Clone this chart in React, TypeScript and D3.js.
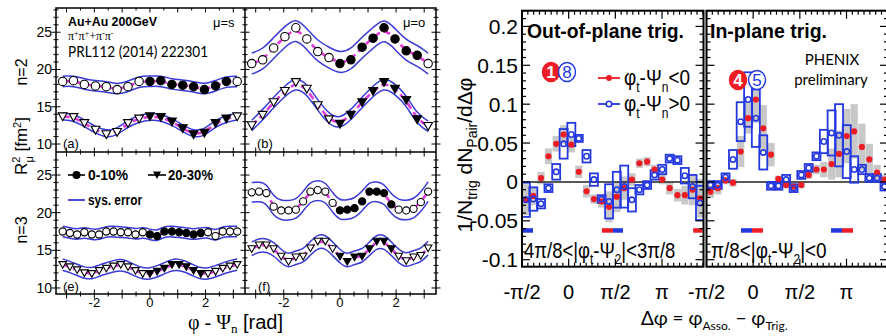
import React from 'react';
import * as d3 from 'd3';

const PI = Math.PI;

// ---------- Left figure data (R^2_mu vs phi - Psi_n) ----------
const phiN2 = [-3.14, -2.75, -2.36, -1.96, -1.57, -1.18, -0.79, -0.39, 0, 0.39, 0.79, 1.18, 1.57, 1.96, 2.36, 2.75, 3.14];
const phiN3 = [-3.14, -2.88, -2.62, -2.36, -2.09, -1.83, -1.57, -1.31, -1.05, -0.79, -0.52, -0.26, 0, 0.26, 0.52, 0.79, 1.05, 1.31, 1.57, 1.83, 2.09, 2.36, 2.62, 2.88, 3.14];

const aCentral = [18.4, 18.5, 18.0, 17.8, 17.7, 17.3, 17.7, 18.4, 18.4, 18.5, 18.0, 17.9, 17.7, 17.3, 17.8, 18.4, 18.4];
const aMid = [13.7, 13.6, 12.8, 11.9, 11.3, 11.6, 12.8, 13.4, 13.7, 13.6, 13.0, 12.1, 11.3, 11.5, 12.8, 13.4, 13.7];
const bCentral = [20.8, 21.3, 22.9, 24.4, 25.6, 24.1, 22.4, 21.6, 20.8, 21.3, 23.0, 24.2, 25.6, 24.1, 22.5, 21.9, 20.8];
const bMid = [12.5, 13.9, 15.6, 17.1, 18.3, 17.4, 15.2, 13.3, 12.7, 13.9, 15.6, 17.1, 18.3, 17.4, 15.9, 13.3, 12.4];
const eCentral = [17.5, 17.3, 17.1, 17.4, 17.1, 17.1, 17.5, 17.5, 17.4, 17.4, 17.1, 17.4, 17.1, 16.9, 17.5, 17.5, 17.4, 17.3, 17.1, 17.3, 17.4, 16.9, 17.5, 17.5, 17.5];
const eMid = [13.1, 12.8, 12.4, 12.0, 11.9, 12.3, 12.6, 12.9, 13.1, 12.8, 12.3, 11.9, 11.9, 12.2, 12.6, 13.1, 13.1, 12.8, 12.3, 11.9, 11.9, 12.2, 12.6, 12.9, 13.1];
const fCentral = [22.7, 22.8, 22.6, 20.8, 20.3, 20.3, 20.4, 21.5, 22.8, 23.0, 22.8, 21.3, 20.3, 20.4, 20.6, 21.5, 22.8, 22.8, 22.6, 21.1, 20.4, 20.3, 20.5, 21.4, 22.8];
const fMid = [15.2, 15.7, 15.7, 15.2, 14.2, 13.5, 14.1, 14.2, 15.3, 16.2, 16.2, 15.2, 14.2, 13.5, 14.1, 14.2, 15.2, 16.2, 16.2, 15.2, 14.2, 13.6, 14.1, 14.3, 15.3];
const sysErr = { a: [0.7, 0.45], b: [1.4, 0.7], e: [0.7, 0.75], f: [1.3, 0.9] };
const filledN2 = [8, 15];
const filledN3 = [12, 19];
const yTicksLeft = [10, 15, 20, 25];
const xTicksLeft = [-2, 0, 2];

// ---------- Right figure data (dN/dDphi) ----------
const dphiBins = [-1.44, -1.19, -0.93, -0.68, -0.42, -0.17, 0.09, 0.34, 0.60, 0.85, 1.11, 1.36, 1.62, 1.87, 2.13, 2.38, 2.64, 2.89, 3.15, 3.40, 3.66, 3.91, 4.17, 4.42];
const outRed = [-0.023, -0.018, 0.005, 0.033, 0.049, 0.061, 0.048, 0.013, -0.012, -0.022, -0.025, -0.032, -0.019, -0.008, 0.003, 0.024, 0.026, 0.016, 0.003, -0.008, -0.017, -0.017, -0.010, -0.021];
const outRedErr = [0.02, 0.012, 0.008, 0.01, 0.01, 0.012, 0.01, 0.008, 0.008, 0.006, 0.008, 0.02, 0.02, 0.015, 0.008, 0.006, 0.006, 0.006, 0.006, 0.008, 0.008, 0.012, 0.02, 0.025];
const outBlue = [-0.023, -0.022, -0.028, -0.008, 0.013, 0.049, 0.061, 0.056, 0.033, 0.003, -0.022, -0.025, -0.010, -0.006, -0.023, -0.010, -0.004, 0.009, 0.016, 0.030, 0.028, 0.008, -0.006, -0.027];
const outBlueErr = [0.022, 0.015, 0.006, 0.005, 0.01, 0.019, 0.015, 0.004, 0.008, 0.008, 0.005, 0.022, 0.023, 0.027, 0.015, 0.006, 0.005, 0.006, 0.006, 0.005, 0.005, 0.01, 0.015, 0.022];
const inRed = [-0.0125, -0.008, 0.002, -0.001, 0.039, 0.082, 0.106, 0.069, 0.035, 0.004, -0.004, -0.006, -0.004, 0.009, 0.016, 0.016, 0.023, 0.036, 0.059, 0.065, 0.045, 0.029, 0.012, 0.003];
const inRedErr = [0.008, 0.008, 0.005, 0.005, 0.02, 0.02, 0.03, 0.03, 0.015, 0.004, 0.004, 0.004, 0.004, 0.005, 0.006, 0.01, 0.02, 0.03, 0.035, 0.035, 0.03, 0.02, 0.01, 0.006];
const inBlue = [-0.004, -0.004, 0.006, 0.029, 0.0775, 0.106, 0.082, 0.038, -0.005, -0.005, 0.003, -0.008, 0.009, 0.018, 0.033, 0.052, 0.063, 0.060, 0.039, 0.016, 0.016, 0.005, 0.005, -0.006];
const inBlueErr = [0.005, 0.005, 0.005, 0.012, 0.025, 0.035, 0.037, 0.022, 0.005, 0.005, 0.006, 0.005, 0.005, 0.005, 0.005, 0.015, 0.029, 0.04, 0.034, 0.017, 0.006, 0.005, 0.005, 0.005];
const zyamOut = [[-1.571, -1.2, 'b'], [1.12, 1.49, 'r'], [1.49, 1.83, 'b'], [4.19, 4.5, 'r']] as [number, number, string][];
const zyamIn = [[-0.41, -0.04, 'b'], [-0.04, 0.33, 'r'], [2.62, 2.99, 'b'], [2.99, 3.36, 'r']] as [number, number, string][];
const yTicksRight = [-0.1, -0.05, 0, 0.05, 0.1, 0.15, 0.2];
const yTickLabelsRight = ['-0.1', '-0.05', '0', '0.05', '0.1', '0.15', '0.2'];
const xTicksRight = [-PI / 2, 0, PI / 2, PI];
const xTickLabelsRight = ['-π/2', '0', 'π/2', 'π'];

const MAG = '#e03ad8';
const BAND = '#3a3ad8';
const RED = '#ee1c24';
const BLUE = '#2438e0';
const GRAY = '#c8c8c8';
const SANS = "'Liberation Sans', Arial, sans-serif";
const SERIF = "'Liberation Serif', 'DejaVu Serif', serif";
const CAL = "Lato, 'Open Sans', sans-serif";

// ---------- geometry ----------
const LX0 = 56, LXM = 245, LX1 = 436;
const LY0 = 8, LYM = 152, LY1 = 294;
const xsA = d3.scaleLinear().domain([-3.38, 3.42]).range([LX0, LXM]);
const xsB = d3.scaleLinear().domain([-3.38, 3.42]).range([LXM, LX1]);
const ysTop = d3.scaleLinear().domain([8.93, 28.25]).range([LYM, LY0]);
const ysBot = d3.scaleLinear().domain([9.2, 28.06]).range([LY1, LYM]);

const RO0 = 522, RO1 = 703.5, RI0 = 706.5, RI1 = 888;
const RY0 = 10.7, RY1 = 266.7;
const xsOut = d3.scaleLinear().domain([-PI / 2, 4.538]).range([RO0, RO1]);
const xsIn = d3.scaleLinear().domain([-PI / 2, 4.538]).range([RI0, RI1]);
const ysR = d3.scaleLinear().domain([-0.109, 0.2202]).range([RY1, RY0]);

type LPProps = { xs: any; ys: any; phi: number[]; central: number[]; mid: number[]; errs: number[]; filled: number[]; r: number };

function LeftPanel({ xs, ys, phi, central, mid, errs, filled, r }: LPProps) {
  const band = d3.line<number[]>().x(d => xs(d[0])).y(d => ys(d[1])).curve(d3.curveBasis);
  const fit = d3.line<number[]>().x(d => xs(d[0])).y(d => ys(d[1])).curve(d3.curveBasis);
  const series = [{ v: central, e: errs[0], shape: 'c' }, { v: mid, e: errs[1], shape: 't' }];
  return (
    <g>
      {series.map((s, k) => (
        <g key={k}>
          <path d={band(phi.map((p, i) => [p, s.v[i] + s.e])) || ''} fill="none" stroke={BAND} strokeWidth={1.5} />
          <path d={band(phi.map((p, i) => [p, s.v[i] - s.e])) || ''} fill="none" stroke={BAND} strokeWidth={1.5} />
          <path d={fit(phi.map((p, i) => [p, s.v[i]])) || ''} fill="none" stroke={MAG} strokeWidth={2.6} strokeDasharray="7 4" />
          {phi.map((p, i) => {
            const f = i >= filled[0] && i <= filled[1];
            const cx = xs(p), cy = ys(s.v[i]);
            return s.shape === 'c' ? (
              <circle key={i} cx={cx} cy={cy} r={r} fill={f ? '#000' : '#fff'} stroke="#000" strokeWidth={1.1} />
            ) : (
              <path key={i} d={`M${cx - r * 1.05},${cy - r * 0.85}L${cx + r * 1.05},${cy - r * 0.85}L${cx},${cy + r * 1.0}Z`} fill={f ? '#000' : '#fff'} stroke="#000" strokeWidth={1.1} />
            );
          })}
        </g>
      ))}
    </g>
  );
}

function leftTicks() {
  const els: any[] = [];
  const yVals = d3.range(9, 29);
  [[ysTop, LY0, LYM], [ysBot, LYM, LY1]].forEach(([ys, ya, yb]: any, pi) => {
    yVals.forEach(v => {
      const y = ys(v);
      if (y < ya + 1 || y > yb - 1) return;
      const L = v % 5 === 0 ? 4.5 : 2.5;
      [LX0, LXM, LX1].forEach((x, xi) => {
        els.push(<line key={`y${pi}-${v}-${xi}`} x1={x - L} x2={x + L} y1={y} y2={y} stroke="#000" strokeWidth={1} />);
      });
    });
  });
  const xVals = d3.range(-3, 3.01, 0.5);
  [xsA, xsB].forEach((xs, xi) => {
    xVals.forEach(v => {
      const x = xs(v);
      const L = Math.abs(v % 1) < 1e-6 ? 4.5 : 2.5;
      els.push(<line key={`xt${xi}-${v}`} x1={x} x2={x} y1={LY0} y2={LY0 + L} stroke="#000" strokeWidth={1} />);
      els.push(<line key={`xm${xi}-${v}`} x1={x} x2={x} y1={LYM - L} y2={LYM + L} stroke="#000" strokeWidth={1} />);
      els.push(<line key={`xb${xi}-${v}`} x1={x} x2={x} y1={LY1 - L} y2={LY1 + L} stroke="#000" strokeWidth={1} />);
    });
  });
  return els;
}

type RPProps = { xs: any; x0: number; x1: number; red: number[]; redErr: number[]; blue: number[]; blueErr: number[]; zyam: [number, number, string][] };

function RightPanel({ xs, x0, x1, red, redErr, blue, blueErr, zyam }: RPProps) {
  const ticks: any[] = [];
  const minorY = d3.range(-0.1, 0.221, 0.01);
  minorY.forEach((v, i) => {
    const y = ysR(v);
    const major = Math.abs(Math.round(v * 100) % 5) === 0;
    const L = major ? 8 : 4;
    ticks.push(<line key={`l${i}`} x1={x0} x2={x0 + L} y1={y} y2={y} stroke="#000" strokeWidth={1.2} />);
    ticks.push(<line key={`r${i}`} x1={x1 - L} x2={x1} y1={y} y2={y} stroke="#000" strokeWidth={1.2} />);
  });
  const minorX = d3.range(-PI / 2, 4.54, PI / 16);
  minorX.forEach((v, i) => {
    const x = xs(v);
    const major = i % 8 === 0;
    const L = major ? 8 : 4;
    ticks.push(<line key={`t${i}`} x1={x} x2={x} y1={RY0} y2={RY0 + L} stroke="#000" strokeWidth={1.2} />);
    ticks.push(<line key={`b${i}`} x1={x} x2={x} y1={RY1 - L} y2={RY1} stroke="#000" strokeWidth={1.2} />);
  });
  return (
    <g>
      <defs>
        <clipPath id={`clip${x0}`}>
          <rect x={x0} y={RY0} width={x1 - x0} height={RY1 - RY0} />
        </clipPath>
      </defs>
      <g clipPath={`url(#clip${x0})`}>
        {dphiBins.map((b, i) => {
          const cx = xs(b);
          const h = Math.max(ysR(red[i] - redErr[i]) - ysR(red[i] + redErr[i]), 6);
          return <rect key={`g${i}`} x={cx - 3.6} y={ysR(red[i]) - h / 2} width={7.2} height={h} fill={GRAY} />;
        })}
        <line x1={x0} x2={x1} y1={ysR(0)} y2={ysR(0)} stroke="#222" strokeWidth={1.6} />
        {dphiBins.map((b, i) => {
          const cx = xs(b);
          const h = Math.max(ysR(blue[i] - blueErr[i]) - ysR(blue[i] + blueErr[i]), 7);
          return <rect key={`bb${i}`} x={cx - 4} y={ysR(blue[i]) - h / 2} width={8} height={h} fill="none" stroke={BLUE} strokeWidth={1.8} />;
        })}
        {dphiBins.map((b, i) => (
          <circle key={`rd${i}`} cx={xs(b)} cy={ysR(red[i])} r={3.1} fill={RED} />
        ))}
        {dphiBins.map((b, i) => (
          <circle key={`bc${i}`} cx={xs(b)} cy={ysR(blue[i])} r={2.7} fill="none" stroke={BLUE} strokeWidth={1.6} />
        ))}
        {zyam.map(([a, b, c], i) => (
          <rect key={`z${i}`} x={xs(a)} y={ysR(-0.0595)} width={xs(b) - xs(a)} height={4.5} fill={c === 'r' ? RED : BLUE} />
        ))}
      </g>
      {ticks}
      <rect x={x0} y={RY0} width={x1 - x0} height={RY1 - RY0} fill="none" stroke="#000" strokeWidth={2} />
      {xTicksRight.map((v, i) => (
        <text key={`xl${i}`} x={xs(v)} y={299} textAnchor="middle" fontFamily={SANS} fontSize={20}>{xTickLabelsRight[i]}</text>
      ))}
    </g>
  );
}

function Badge({ cx, cy, label, filled }: { cx: number; cy: number; label: string; filled: boolean }) {
  return (
    <g>
      <ellipse cx={cx} cy={cy} rx={8.5} ry={9.5} fill={filled ? RED : '#fff'} stroke={filled ? RED : BLUE} strokeWidth={1.4} />
      <text x={cx} y={cy + 6} textAnchor="middle" fontFamily={SANS} fontSize={17} fontWeight={filled ? 'bold' : 'normal'} fill={filled ? '#fff' : BLUE}>{label}</text>
    </g>
  );
}

function LegendText({ x, y, rel }: { x: number; y: number; rel: string }) {
  return (
    <g transform={`translate(${x},${y}) scale(0.86,1)`}>
      <text x={0} y={0} fontFamily={SANS} fontSize={22}>
        φ<tspan dy={7} fontSize={14}>t</tspan><tspan dy={-7}>-Ψ</tspan><tspan dy={7} fontSize={14}>n</tspan><tspan dy={-7}>{rel}</tspan>
      </text>
    </g>
  );
}

function RangeText({ x, y, sx, lo, hi }: { x: number; y: number; sx: number; lo: string; hi: string }) {
  return (
    <g transform={`translate(${x},${y}) scale(${sx},1)`}>
      <text x={0} y={0} fontFamily={SANS} fontSize={22}>
        {lo}&lt;|φ<tspan dy={6} fontSize={14}>t</tspan><tspan dy={-6}>-Ψ</tspan><tspan dy={6} fontSize={14}>2</tspan><tspan dy={-6}>|&lt;{hi}</tspan>
      </text>
    </g>
  );
}

export default function App() {
  return (
    <svg width={886} height={336} viewBox="0 0 886 336" style={{ position: 'absolute', left: 0, top: 0, background: '#fff' }}>
      <rect x={0} y={0} width={886} height={336} fill="#fff" />
      {/* ---------- LEFT FIGURE ---------- */}
      <LeftPanel xs={xsA} ys={ysTop} phi={phiN2} central={aCentral} mid={aMid} errs={sysErr.a} filled={filledN2} r={4.2} />
      <LeftPanel xs={xsB} ys={ysTop} phi={phiN2} central={bCentral} mid={bMid} errs={sysErr.b} filled={filledN2} r={4.2} />
      <LeftPanel xs={xsA} ys={ysBot} phi={phiN3} central={eCentral} mid={eMid} errs={sysErr.e} filled={filledN3} r={3.6} />
      <LeftPanel xs={xsB} ys={ysBot} phi={phiN3} central={fCentral} mid={fMid} errs={sysErr.f} filled={filledN3} r={3.6} />
      {leftTicks()}
      <rect x={LX0} y={LY0} width={LX1 - LX0} height={LY1 - LY0} fill="none" stroke="#000" strokeWidth={1.5} />
      <line x1={LXM} x2={LXM} y1={LY0} y2={LY1} stroke="#000" strokeWidth={1.5} />
      <line x1={LX0} x2={LX1} y1={LYM} y2={LYM} stroke="#000" strokeWidth={1.5} />
      {yTicksLeft.map(v => (
        <text key={`lyt${v}`} x={52} y={ysTop(v) + 5} textAnchor="end" fontFamily={SANS} fontSize={14}>{v}</text>
      ))}
      {yTicksLeft.map(v => (
        <text key={`lyb${v}`} x={52} y={ysBot(v) + 5} textAnchor="end" fontFamily={SANS} fontSize={14}>{v}</text>
      ))}
      {xTicksLeft.map(v => (
        <text key={`lxa${v}`} x={xsA(v)} y={307} textAnchor="middle" fontFamily={SANS} fontSize={13}>{v}</text>
      ))}
      {xTicksLeft.map(v => (
        <text key={`lxb${v}`} x={xsB(v)} y={307} textAnchor="middle" fontFamily={SANS} fontSize={13}>{v}</text>
      ))}
      {/* panel annotations */}
      <text x={68} y={26} fontFamily={SANS} fontSize={13.5} fontWeight="bold" textLength={89} lengthAdjust="spacingAndGlyphs">Au+Au 200GeV</text>
      <text x={68} y={40} fontFamily={SERIF} fontSize={12}>
        π<tspan dy={-4} fontSize={8}>+</tspan><tspan dy={4}>π</tspan><tspan dy={-4} fontSize={8}>+</tspan><tspan dy={4}>+π</tspan><tspan dy={-4} fontSize={8}>-</tspan><tspan dy={4}>π</tspan><tspan dy={-4} fontSize={8}>-</tspan>
      </text>
      <text x={68} y={57} fontFamily={CAL} fontSize={15} textLength={140} lengthAdjust="spacingAndGlyphs">PRL112 (2014) 222301</text>
      <text x={213} y={27} fontFamily={SANS} fontSize={13}>μ=s</text>
      <text x={403} y={27} fontFamily={SANS} fontSize={13}>μ=o</text>
      <text x={63} y={148} fontFamily={SANS} fontSize={13}>(a)</text>
      <text x={257} y={148} fontFamily={SANS} fontSize={13}>(b)</text>
      <text x={63} y={291} fontFamily={SANS} fontSize={13}>(e)</text>
      <text x={258} y={291} fontFamily={SANS} fontSize={13}>(f)</text>
      {/* legend (e) */}
      <line x1={68} x2={85} y1={175} y2={175} stroke="#000" strokeWidth={1.6} />
      <circle cx={76.5} cy={175} r={4} fill="#000" />
      <text x={88} y={180} fontFamily={SANS} fontSize={14} fontWeight="bold" textLength={40} lengthAdjust="spacingAndGlyphs">0-10%</text>
      <line x1={148} x2={166} y1={175} y2={175} stroke="#000" strokeWidth={1.6} />
      <path d="M153,171.5L161,171.5L157,179Z" fill="#000" />
      <text x={168} y={180} fontFamily={SANS} fontSize={14} fontWeight="bold" textLength={45} lengthAdjust="spacingAndGlyphs">20-30%</text>
      <line x1={68} x2={85} y1={200} y2={200} stroke={BAND} strokeWidth={1.8} />
      <text x={88} y={205} fontFamily={SANS} fontSize={14} fontWeight="bold" textLength={54} lengthAdjust="spacingAndGlyphs">sys. error</text>
      {/* left axis titles */}
      <text transform="translate(27,72) rotate(-90)" textAnchor="middle" fontFamily={SANS} fontSize={16}>n=2</text>
      <text transform="translate(27,230) rotate(-90)" textAnchor="middle" fontFamily={SANS} fontSize={16}>n=3</text>
      <text transform="translate(27,146) rotate(-90)" textAnchor="middle" fontFamily={SANS} fontSize={17}>
        R<tspan dy={-7} fontSize={11}>2</tspan><tspan dx={-6} dy={13} fontSize={11}>μ</tspan><tspan dy={-6}> [fm</tspan><tspan dy={-6} fontSize={11}>2</tspan><tspan dy={6}>]</tspan>
      </text>
      <text x={188} y={329} fontFamily={SERIF} fontSize={20}>
        φ - Ψ<tspan dy={4} fontSize={13}>n</tspan><tspan dy={-4} fontFamily={SANS}> [rad]</tspan>
      </text>

      {/* ---------- RIGHT FIGURE ---------- */}
      <RightPanel xs={xsOut} x0={RO0} x1={RO1} red={outRed} redErr={outRedErr} blue={outBlue} blueErr={outBlueErr} zyam={zyamOut} />
      <RightPanel xs={xsIn} x0={RI0} x1={RI1} red={inRed} redErr={inRedErr} blue={inBlue} blueErr={inBlueErr} zyam={zyamIn} />
      {yTicksRight.map((v, i) => (
        <text key={`ryl${i}`} x={518} y={ysR(v) + 7.5} textAnchor="end" fontFamily={SANS} fontSize={21}>{yTickLabelsRight[i]}</text>
      ))}
      <text transform="translate(472,155) rotate(-90)" textAnchor="middle" fontFamily={SANS} fontSize={21}>
        1/N<tspan dy={5} fontSize={14}>trig</tspan><tspan dy={-5}>  dN</tspan><tspan dy={5} fontSize={14}>Pair</tspan><tspan dy={-5}>/dΔφ</tspan>
      </text>
      <text x={641} y={325} fontFamily={CAL} fontSize={19}>
        Δφ = φ<tspan dy={5} fontSize={12}>Asso.</tspan><tspan dy={-5}> − φ</tspan><tspan dy={5} fontSize={12}>Trig.</tspan>
      </text>
      <text x={527} y={38} fontFamily={SANS} fontSize={20} fontWeight="bold" textLength={157} lengthAdjust="spacingAndGlyphs">Out-of-plane trig.</text>
      <text x={710} y={38} fontFamily={SANS} fontSize={20} fontWeight="bold" textLength={117} lengthAdjust="spacingAndGlyphs">In-plane trig.</text>
      {/* legend */}
      <line x1={598} x2={620} y1={78} y2={78} stroke={RED} strokeWidth={1.8} />
      <circle cx={609} cy={78} r={3} fill={RED} />
      <LegendText x={624} y={85} rel="<0" />
      <line x1={598} x2={620} y1={104} y2={104} stroke={BLUE} strokeWidth={1.8} />
      <circle cx={609} cy={104} r={2.8} fill="#fff" stroke={BLUE} strokeWidth={1.6} />
      <LegendText x={624} y={111} rel=">0" />
      <Badge cx={551} cy={72} label="1" filled={true} />
      <Badge cx={567} cy={72} label="8" filled={false} />
      <Badge cx={738} cy={80} label="4" filled={true} />
      <Badge cx={757} cy={80} label="5" filled={false} />
      <text x={832} y={65} textAnchor="middle" fontFamily={CAL} fontSize={15}>PHENIX</text>
      <text x={831} y={85} textAnchor="middle" fontFamily={CAL} fontSize={15}>preliminary</text>
      <RangeText x={524} y={258} sx={0.84} lo="4π/8" hi="3π/8" />
      <RangeText x={711} y={258} sx={0.86} lo="π/8" hi="0" />
    </svg>
  );
}
